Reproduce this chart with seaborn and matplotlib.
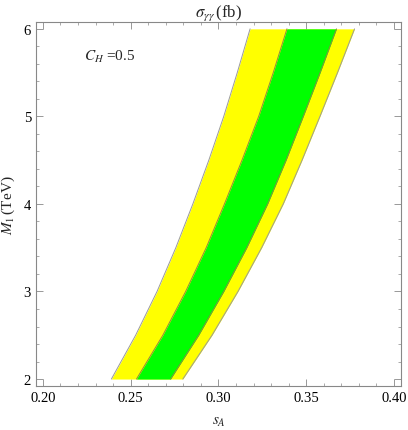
import numpy as np
import pandas as pd
import matplotlib
matplotlib.use('Agg')
import matplotlib.pyplot as plt
import seaborn as sns
from matplotlib.ticker import MultipleLocator

# band edges (s_A at given M_1)
m1 = [2.0, 2.5, 3.0, 3.5, 4.0, 4.5, 5.0, 5.5, 6.0]
yellow_left = [0.2390, 0.2528, 0.2650, 0.2757, 0.2854, 0.2945, 0.3030, 0.3107, 0.3180]
green_left = [0.2533, 0.2683, 0.2813, 0.2930, 0.3034, 0.3134, 0.3229, 0.3312, 0.3390]
green_right = [0.2727, 0.2887, 0.3030, 0.3161, 0.3280, 0.3385, 0.3483, 0.3579, 0.3672]
yellow_right = [0.2797, 0.2963, 0.3111, 0.3246, 0.3369, 0.3476, 0.3578, 0.3678, 0.3775]

sns.set_style('ticks')
plt.rcParams['font.family'] = ['Liberation Serif', 'DejaVu Serif']
plt.rcParams['mathtext.fontset'] = 'stix'

fig = plt.figure(figsize=(4.08, 4.31), dpi=100)
ax = fig.add_axes([0.088, 0.102, 0.895, 0.845])

# filled bands
ax.fill_betweenx(m1, yellow_left, yellow_right, color='#ffff00', lw=0)
ax.fill_betweenx(m1, green_left, green_right, color='#00ff00', lw=0)

# edges
df = pd.DataFrame({'M1': m1, 'yl': yellow_left, 'gl': green_left,
                   'gr': green_right, 'yr': yellow_right})
for col, c in [('yl', '#9a9a9a'), ('gl', '#8c8c40'), ('gr', '#8c8c40'), ('yr', '#9a9a9a')]:
    sns.lineplot(data=df, x=col, y='M1', orient='y', sort=False, color=c, lw=0.7, ax=ax)

ax.set_xlim(0.196, 0.404)
ax.set_ylim(1.92, 6.08)
ax.xaxis.set_major_locator(MultipleLocator(0.05))
ax.xaxis.set_minor_locator(MultipleLocator(0.01))
ax.yaxis.set_major_locator(MultipleLocator(1))
ax.yaxis.set_minor_locator(MultipleLocator(0.2))
ax.xaxis.set_major_formatter(matplotlib.ticker.FormatStrFormatter('%.2f'))
ax.tick_params(which='both', direction='in', top=True, right=True,
               colors='#888888', labelcolor='black', labelsize=10.5)
ax.tick_params(which='major', length=5, width=0.6)
ax.tick_params(which='minor', length=2.5, width=0.5)
for s in ax.spines.values():
    s.set_color('#888888')
    s.set_linewidth(0.8)

ax.set_xlabel(r'$s_A$', fontsize=11, labelpad=8)
ax.set_ylabel(r'$M_1\,$(TeV)', fontsize=11, labelpad=5)
ax.set_title(r'$\sigma_{\gamma\gamma}\,$(fb)', fontsize=12, pad=4)
ax.text(0.2235, 5.69, r'$C_H$ =0.5', fontsize=11, va='center', ha='left')

fig.savefig('out.png', dpi=100)
